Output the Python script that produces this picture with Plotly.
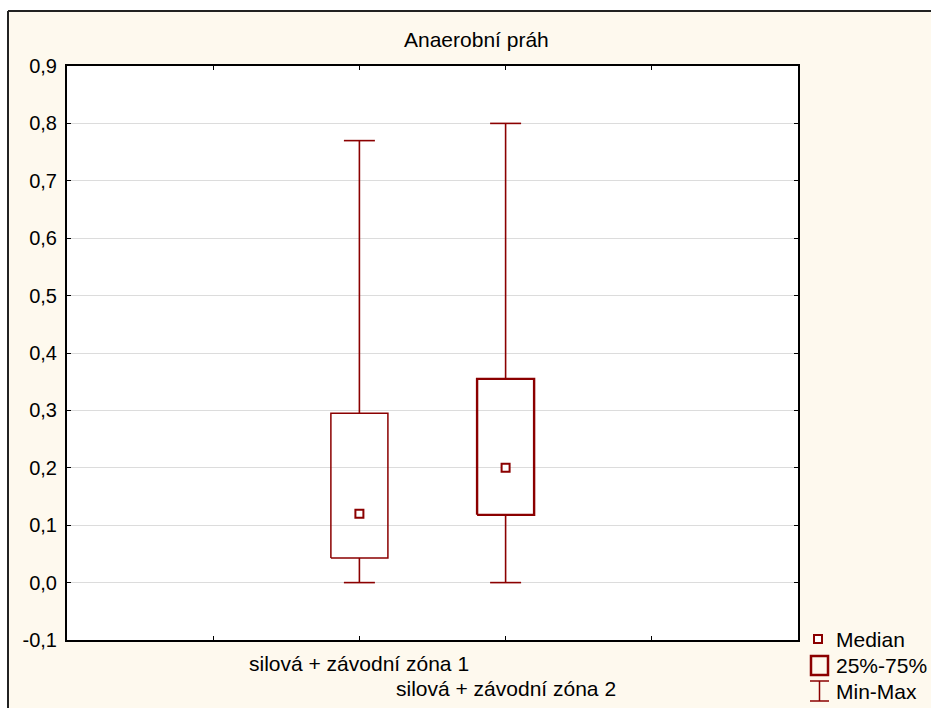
import plotly.graph_objects as go

# ---- data ----
categories = ["silová + závodní zóna 1", "silová + závodní zóna 2"]
cat_pos = [2, 3]
mins = [0.0, 0.0]
q1s = [0.043, 0.118]
medians = [0.12, 0.20]
q3s = [0.295, 0.355]
maxs = [0.77, 0.80]
y_tick_vals = [-0.1, 0.0, 0.1, 0.2, 0.3, 0.4, 0.5, 0.6, 0.7, 0.8, 0.9]
y_tick_text = ["-0,1", "0,0", "0,1", "0,2", "0,3", "0,4", "0,5", "0,6", "0,7", "0,8", "0,9"]
title_text = "Anaerobní práh"
legend_labels = ["Median", "25%-75%", "Min-Max"]

# ---- style ----
W, H = 931, 708
ML, MR, MT, MB = 67, 133, 66, 68
PW, PH = W - ML - MR, H - MT - MB
RED = "#8B0000"
CREAM = "#FEF9EE"
FONT = "Liberation Sans, Arial, sans-serif"
box_half = 0.195
cap_half = 0.106
box_widths = [1.5, 2.4]
TXT = 21


def px(xp):
    return (xp - ML) / PW


def py(yp):
    return (H - MB - yp) / PH


fig = go.Figure()

for i, c in enumerate(cat_pos):
    # box
    fig.add_trace(go.Scatter(
        x=[c - box_half, c + box_half, c + box_half, c - box_half, c - box_half],
        y=[q1s[i], q1s[i], q3s[i], q3s[i], q1s[i]],
        mode="lines", line=dict(color=RED, width=box_widths[i]),
        hoverinfo="skip", showlegend=False))
    # whiskers
    for a, b in ((q3s[i], maxs[i]), (q1s[i], mins[i])):
        fig.add_trace(go.Scatter(x=[c, c], y=[a, b], mode="lines",
                                 line=dict(color=RED, width=1.6),
                                 hoverinfo="skip", showlegend=False))
    # caps
    for v in (maxs[i], mins[i]):
        fig.add_trace(go.Scatter(x=[c - cap_half, c + cap_half], y=[v, v],
                                 mode="lines", line=dict(color=RED, width=1.6),
                                 hoverinfo="skip", showlegend=False))
    # median marker
    fig.add_trace(go.Scatter(x=[c], y=[medians[i]], mode="markers",
                             marker=dict(symbol="square", size=8, color="white",
                                         line=dict(color=RED, width=2)),
                             hoverinfo="skip", showlegend=False))

shapes = []
# white strips outside outer border, outer border lines
shapes.append(dict(type="rect", xref="paper", yref="paper", x0=px(-5), x1=px(8), y0=py(-5), y1=py(H + 5),
                   fillcolor="white", line=dict(width=0), layer="below"))
shapes.append(dict(type="rect", xref="paper", yref="paper", x0=px(-5), x1=px(W + 5), y0=py(-5), y1=py(11),
                   fillcolor="white", line=dict(width=0), layer="below"))
shapes.append(dict(type="line", xref="paper", yref="paper", x0=px(8), x1=px(W + 5), y0=py(11), y1=py(11),
                   line=dict(color="#222222", width=2)))
shapes.append(dict(type="line", xref="paper", yref="paper", x0=px(8), x1=px(8), y0=py(11), y1=py(H + 5),
                   line=dict(color="#222222", width=2)))

# legend icons
shapes.append(dict(type="rect", xref="paper", yref="paper", x0=px(814), x1=px(822), y0=py(643), y1=py(635),
                   line=dict(color=RED, width=2), fillcolor="white"))
shapes.append(dict(type="rect", xref="paper", yref="paper", x0=px(811), x1=px(828), y0=py(675), y1=py(656),
                   line=dict(color=RED, width=2.5), fillcolor=CREAM))
shapes.append(dict(type="line", xref="paper", yref="paper", x0=px(810), x1=px(829), y0=py(681), y1=py(681),
                   line=dict(color=RED, width=1.5)))
shapes.append(dict(type="line", xref="paper", yref="paper", x0=px(810), x1=px(829), y0=py(701), y1=py(701),
                   line=dict(color=RED, width=1.5)))
shapes.append(dict(type="line", xref="paper", yref="paper", x0=px(819.5), x1=px(819.5), y0=py(681), y1=py(701),
                   line=dict(color=RED, width=1.5)))

annotations = []
annotations.append(dict(text=title_text, xref="paper", yref="paper", x=px(476), y=py(40),
                        xanchor="center", yanchor="middle", showarrow=False,
                        font=dict(family=FONT, size=TXT, color="black")))
label_y = [663, 688]
for i, c in enumerate(cat_pos):
    annotations.append(dict(text=categories[i], xref="x", yref="paper", x=c, y=py(label_y[i]),
                            xanchor="center", yanchor="middle", showarrow=False,
                            font=dict(family=FONT, size=TXT, color="black")))
leg_y = [639, 665, 691]
for i, t in enumerate(legend_labels):
    annotations.append(dict(text=t, xref="paper", yref="paper", x=px(834), y=py(leg_y[i]),
                            xanchor="left", yanchor="middle", showarrow=False,
                            font=dict(family=FONT, size=TXT, color="black")))

fig.update_layout(
    width=W, height=H,
    margin=dict(l=ML, r=MR, t=MT, b=MB, pad=0),
    paper_bgcolor=CREAM, plot_bgcolor="white",
    font=dict(family=FONT, size=20, color="black"),
    showlegend=False,
    shapes=shapes, annotations=annotations,
    xaxis=dict(range=[0, 5], tickvals=[1, 2, 3, 4], ticktext=["", "", "", ""],
               ticks="inside", ticklen=4, tickwidth=1, tickcolor="black",
               showgrid=False, zeroline=False, showline=True, linecolor="black",
               linewidth=2, mirror="ticks", fixedrange=True),
    yaxis=dict(range=[-0.1, 0.9], tickvals=y_tick_vals, ticktext=y_tick_text,
               ticks="inside", ticklen=4, tickwidth=1, tickcolor="black",
               ticklabelstandoff=4,
               showgrid=True, gridcolor="#DCDCDC", gridwidth=1, zeroline=False,
               showline=True, linecolor="black", linewidth=2, mirror="ticks",
               tickfont=dict(family=FONT, size=20, color="black"), fixedrange=True),
)

fig.write_html("out.html")
